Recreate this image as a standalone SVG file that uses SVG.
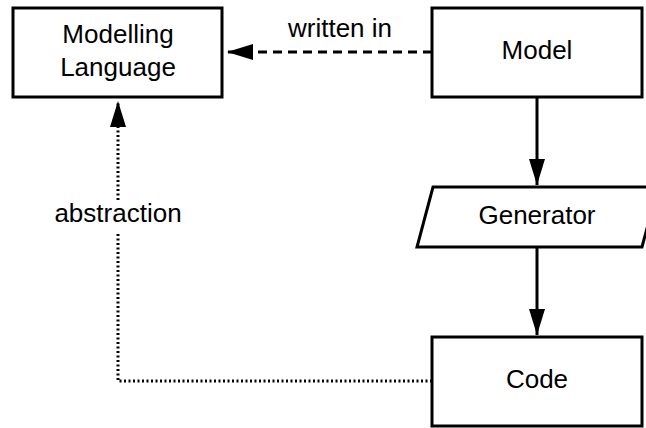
<svg xmlns="http://www.w3.org/2000/svg" width="646" height="428" viewBox="0 0 646 428">
<style>
.box{fill:#fff;stroke:#000;stroke-width:3}
.t{font-family:"Liberation Sans",Arial,sans-serif;font-size:26px;fill:#000;text-anchor:middle}
.c{fill:none;stroke:#000;stroke-width:3}
</style>
<defs>
<marker id="ahb" viewBox="0 0 26 16" refX="26" refY="8" markerWidth="26" markerHeight="16" markerUnits="userSpaceOnUse" orient="auto">
<path d="M0,0 L26,8 L0,16 Z" fill="#000"/>
</marker>
</defs>
<rect width="646" height="428" fill="#fff"/>
<g id="connectors">
<path class="c" d="M432,52 H227" stroke-dasharray="9 6" marker-end="url(#ahb)"/>
<path class="c" d="M537,97 V185" marker-end="url(#ahb)"/>
<path class="c" d="M537,247 V335" marker-end="url(#ahb)"/>
<path class="c" d="M432,381 H118 V101" stroke-width="2.5" stroke-dasharray="2 2.5" marker-end="url(#ahb)"/>
<rect x="50" y="200" width="136" height="32" fill="#fff"/>
<text class="t" x="340" y="37">written in</text>
<text class="t" x="118" y="222">abstraction</text>
</g>
<g id="modelling-language">
<rect class="box" x="13" y="8" width="209" height="89"/>
<text class="t" x="118" y="43">Modelling</text>
<text class="t" x="118" y="76">Language</text>
</g>
<g id="model">
<rect class="box" x="432" y="8" width="210" height="89"/>
<text class="t" x="537" y="59">Model</text>
</g>
<g id="generator">
<path class="box" d="M433,187 H658 L642,247 H417 Z"/>
<text class="t" x="537" y="224">Generator</text>
</g>
<g id="code">
<rect class="box" x="432" y="337" width="210" height="89"/>
<text class="t" x="537" y="388">Code</text>
</g>
</svg>
